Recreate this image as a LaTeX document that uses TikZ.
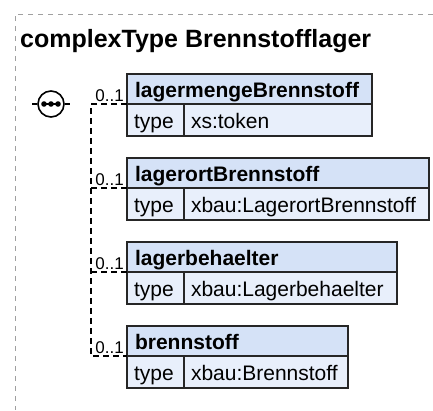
\documentclass[tikz,border=0pt]{standalone}
\usepackage{fontspec}
\setmainfont{Liberation Sans}
\definecolor{headblue}{HTML}{D5E2F7}
\definecolor{rowblue}{HTML}{E8EFFB}
\definecolor{framegray}{HTML}{A0A0A0}

\begin{document}
\begin{tikzpicture}[x=1pt, y=-1pt,
    headbox/.style={draw=black!85, line width=1.7pt, fill=headblue, anchor=north west, outer sep=0pt,
        minimum height=30pt, inner xsep=8pt, inner ysep=0pt, text width=#1, align=left,
        text height=16pt, text depth=0pt, font=\bfseries\fontsize{21}{24}\selectfont},
    typebox/.style={draw=black!85, line width=1.7pt, fill=rowblue, anchor=north west, outer sep=0pt,
        minimum height=32pt, inner xsep=7pt, inner ysep=0pt, text width=#1, align=left,
        text height=16pt, text depth=0pt, font=\fontsize{21}{24}\selectfont},
    conn/.style={dash pattern=on 6pt off 4pt, line width=1.6pt},
    mult/.style={anchor=base east, inner sep=0pt, font=\fontsize{17}{20}\selectfont}]
    \useasboundingbox (0,0) rectangle (433,410);

    % Frame of the complex type
    \draw[framegray, line width=1pt, dash pattern=on 5pt off 5pt] (433,14) -- (15,14) -- (15,410);
    \node[anchor=base west, inner sep=0pt, font=\bfseries\fontsize{25}{29}\selectfont] (title) at (20,47) {complexType Brennstofflager};

    % Sequence symbol
    \node[circle, draw, line width=1.6pt, fill=white, minimum size=26pt, inner sep=0pt] (seq) at (51,104) {};
    \coordinate (seqin) at (32,104);
    \coordinate (seqout) at (70,104);
    \draw[line width=1.6pt] (seqin) -- (seq) (seq) -- (seqout);
    \draw[line width=1.8pt] ([xshift=-7pt]seq.center) -- ([xshift=7pt]seq.center);
    \foreach \dx in {-7,0,7}
        \fill ([xshift=\dx pt]seq.center) circle (2.8pt);

    % Elements
    \node[headbox=229pt] (lagermenge) at (127,74) {lagermengeBrennstoff};
    \node[typebox=43pt] (lagermengeT) at (lagermenge.south west) {type};
    \node[typebox=174pt] (lagermengeV) at (lagermengeT.north east) {xs:token};

    \node[headbox=286pt] (lagerort) at (127,158) {lagerortBrennstoff};
    \node[typebox=43pt] (lagerortT) at (lagerort.south west) {type};
    \node[typebox=231pt] (lagerortV) at (lagerortT.north east) {xbau:LagerortBrennstoff};

    \node[headbox=254pt] (behaelter) at (127,242) {lagerbehaelter};
    \node[typebox=43pt] (behaelterT) at (behaelter.south west) {type};
    \node[typebox=199pt] (behaelterV) at (behaelterT.north east) {xbau:Lagerbehaelter};

    \node[headbox=205pt] (brenn) at (127,326) {brennstoff};
    \node[typebox=43pt] (brennT) at (brenn.south west) {type};
    \node[typebox=150pt] (brennV) at (brennT.north east) {xbau:Brennstoff};

    % Branches from the sequence
    \coordinate (branch) at (91,104);
    \draw[conn] (lagermenge.south west) -- (branch) -- (branch |- brenn.south west) -- (brenn.south west);
    \draw[conn] (branch |- lagerort.south west) -- (lagerort.south west);
    \draw[conn] (branch |- behaelter.south west) -- (behaelter.south west);

    % Multiplicities
    \foreach \el in {lagermenge, lagerort, behaelter, brenn}
        \node[mult] at ([xshift=-3pt, yshift=3pt]\el.south west) {0..1};
\end{tikzpicture}
\end{document}
